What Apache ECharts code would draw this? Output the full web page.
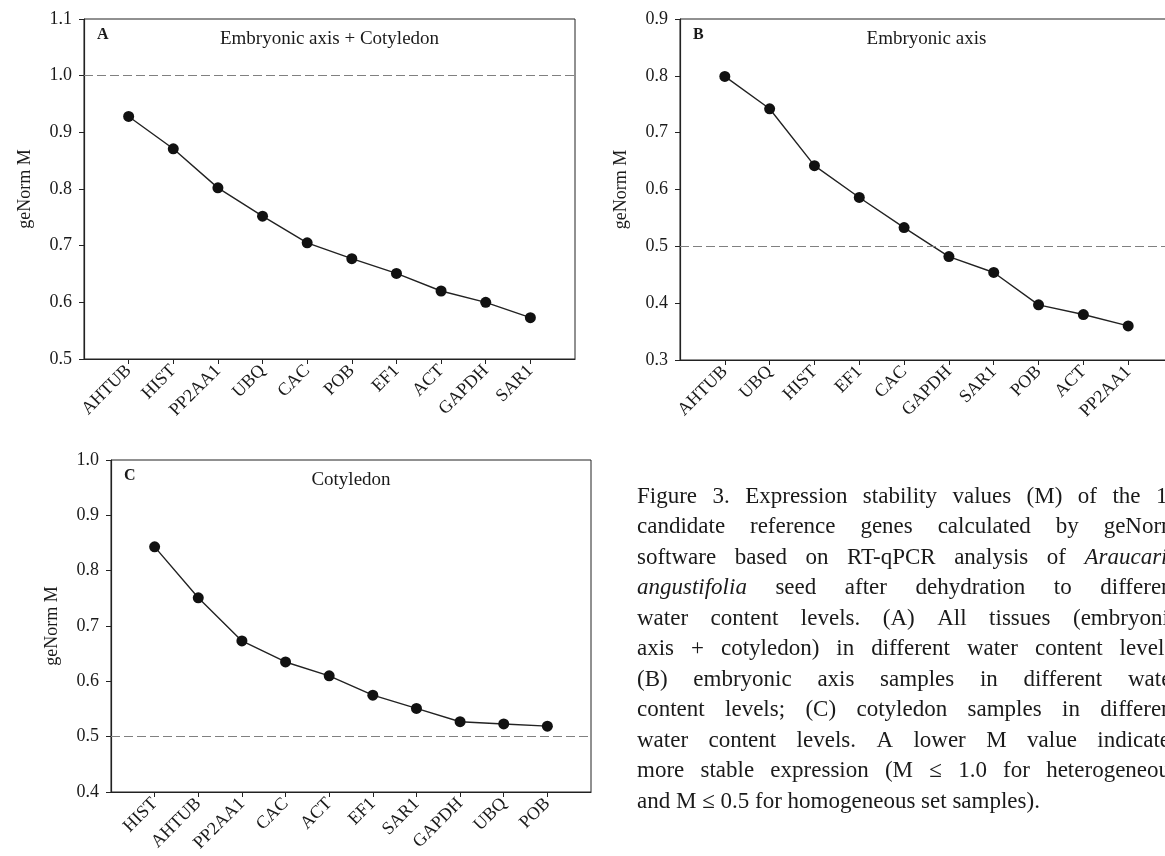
<!DOCTYPE html>
<html>
<head>
<meta charset="utf-8">
<script src="https://cdn.jsdelivr.net/npm/echarts@6/dist/echarts.min.js"></script>
<style>
  html, body { margin: 0; padding: 0; background: #fff; }
  #chart { width: 1165px; height: 856px; }
</style>
</head>
<body>
<div id="chart"></div>
<script>
// Panel A: embryonic axis + cotyledon
const genesA = ['AHTUB', 'HIST', 'PP2AA1', 'UBQ', 'CAC', 'POB', 'EF1', 'ACT', 'GAPDH', 'SAR1'];
const valuesA = [0.928, 0.871, 0.802, 0.752, 0.705, 0.677, 0.651, 0.620, 0.600, 0.573];
const yTicksA = { min: 0.5, max: 1.1 };
const cutoffA = 1.0;

// Panel B: embryonic axis
const genesB = ['AHTUB', 'UBQ', 'HIST', 'EF1', 'CAC', 'GAPDH', 'SAR1', 'POB', 'ACT', 'PP2AA1'];
const valuesB = [0.799, 0.742, 0.642, 0.586, 0.533, 0.482, 0.454, 0.397, 0.380, 0.360];
const yTicksB = { min: 0.3, max: 0.9 };
const cutoffB = 0.5;

// Panel C: cotyledon
const genesC = ['HIST', 'AHTUB', 'PP2AA1', 'CAC', 'ACT', 'EF1', 'SAR1', 'GAPDH', 'UBQ', 'POB'];
const valuesC = [0.843, 0.751, 0.673, 0.635, 0.610, 0.575, 0.551, 0.527, 0.523, 0.519];
const yTicksC = { min: 0.4, max: 1.0 };
const cutoffC = 0.5;

const captionLines = [
  'Figure 3. Expression stability values (M) of the 10',
  'candidate reference genes calculated by geNorm',
  'software based on RT-qPCR analysis of Araucaria',
  'angustifolia seed after dehydration to different',
  'water content levels. (A) All tissues (embryonic',
  'axis + cotyledon) in different water content levels.',
  '(B) embryonic axis samples in different water',
  'content levels; (C) cotyledon samples in different',
  'water content levels. A lower M value indicates',
  'more stable expression (M \u2264 1.0 for heterogeneous',
  'and M \u2264 0.5 for homogeneous set samples).'
];
const italicWords = ['Araucaria', 'angustifolia'];

const FONT = '"Liberation Serif", "Times New Roman", serif';
const INK = '#1a1a1a';

const panels = [
  { genes: genesA, values: valuesA, y: yTicksA, cut: cutoffA, letter: 'A', title: 'Embryonic axis + Cotyledon',
    grid: { left: 84, top: 19, width: 491, height: 340 } },
  { genes: genesB, values: valuesB, y: yTicksB, cut: cutoffB, letter: 'B', title: 'Embryonic axis',
    grid: { left: 680, top: 19, width: 493, height: 341 } },
  { genes: genesC, values: valuesC, y: yTicksC, cut: cutoffC, letter: 'C', title: 'Cotyledon',
    grid: { left: 111, top: 460, width: 480, height: 332 } }
];

const chart = echarts.init(document.getElementById('chart'));

// blank slot at each end so the points sit one step in from the frame
const pad = arr => [' ', ...arr, '  '];
const padVals = arr => [null, ...arr, null];

const grids = [], xAxes = [], yAxes = [], series = [], graphics = [];

panels.forEach((p, i) => {
  grids.push(Object.assign({
    show: true, borderColor: '#222', borderWidth: 1, backgroundColor: 'transparent',
    containLabel: false, outerBoundsMode: 'none'
  }, p.grid));
  xAxes.push({
    type: 'category', gridIndex: i, data: pad(p.genes), boundaryGap: false,
    axisLine: { lineStyle: { color: '#222', width: 1.2 } },
    axisTick: { length: 5, interval: (idx) => idx > 0 && idx <= p.genes.length, lineStyle: { color: '#222' } },
    axisLabel: { interval: 0, rotate: 45, margin: 9, color: INK, fontFamily: FONT, fontSize: 18 },
    splitLine: { show: false }
  });
  yAxes.push({
    type: 'value', gridIndex: i, min: p.y.min, max: p.y.max, interval: 0.1,
    name: 'geNorm M', nameLocation: 'middle', nameGap: 50,
    nameTextStyle: { color: INK, fontFamily: FONT, fontSize: 18 },
    axisLine: { show: true, lineStyle: { color: '#222', width: 1.2 } },
    axisTick: { show: true, length: 5, lineStyle: { color: '#222' } },
    axisLabel: { margin: 12, color: INK, fontFamily: FONT, fontSize: 18, formatter: v => v.toFixed(1) },
    splitLine: { show: false }
  });
  series.push({
    type: 'line', xAxisIndex: i, yAxisIndex: i, data: padVals(p.values),
    symbol: 'circle', symbolSize: 11,
    itemStyle: { color: '#111' },
    lineStyle: { color: '#222', width: 1.4 },
    markLine: {
      silent: true, symbol: 'none', label: { show: false },
      lineStyle: { color: '#808080', type: [9, 4], width: 1.2 },
      data: [{ yAxis: p.cut }]
    }
  });
  graphics.push({
    type: 'text', x: p.grid.left + 13, y: p.grid.top + 16,
    style: { text: p.letter, font: 'bold 16px ' + FONT, fill: INK, verticalAlign: 'middle' }
  });
  graphics.push({
    type: 'text', x: p.grid.left + p.grid.width / 2, y: p.grid.top + 20,
    style: { text: p.title, font: '19px ' + FONT, fill: INK, align: 'center', verticalAlign: 'middle' }
  });
});

// justified caption, one text element per word
const capLeft = 637, capWidth = 542, capTop = 485, capLead = 30.5, capSize = 23;
const ctx = document.createElement('canvas').getContext('2d');
const capFont = w => (italicWords.includes(w) ? 'italic ' : '') + capSize + 'px ' + FONT;
captionLines.forEach((line, li) => {
  const words = line.split(' ');
  const widths = words.map(w => { ctx.font = capFont(w); return ctx.measureText(w).width; });
  const total = widths.reduce((a, b) => a + b, 0);
  ctx.font = capFont('x');
  const space = ctx.measureText(' ').width;
  const last = li === captionLines.length - 1;
  const gap = last ? space : (capWidth - total) / (words.length - 1);
  let x = capLeft;
  words.forEach((w, wi) => {
    graphics.push({
      type: 'text', x: x, y: capTop + li * capLead,
      style: { text: w, font: capFont(w), fill: INK, verticalAlign: 'alphabetic' }
    });
    x += widths[wi] + gap;
  });
});

chart.setOption({
  animation: false,
  backgroundColor: '#fff',
  grid: grids,
  xAxis: xAxes,
  yAxis: yAxes,
  series: series,
  graphic: graphics
});
</script>
</body>
</html>
